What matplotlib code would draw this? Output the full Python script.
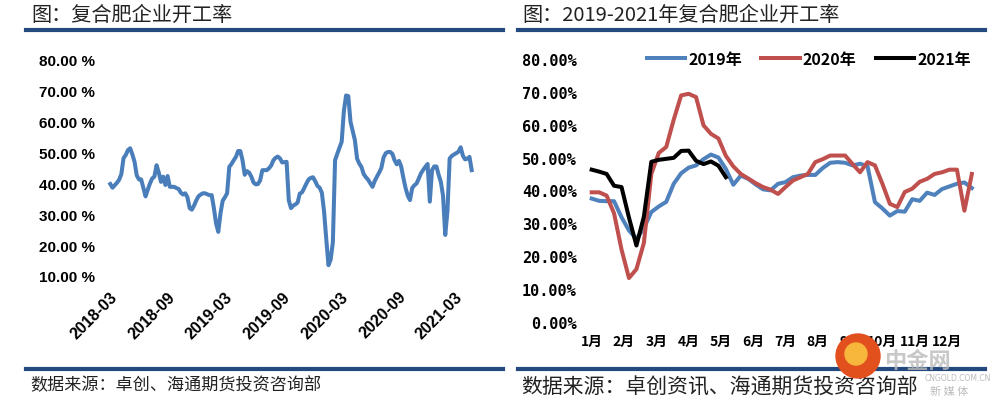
import matplotlib.pyplot as plt
from matplotlib.lines import Line2D
from matplotlib.patches import Ellipse
import pandas as pd

plt.rcParams['font.family'] = ['Noto Sans CJK SC', 'DejaVu Sans']

# 左图：复合肥企业开工率（周度，自 2018-03-02 起）
rate_start = '2018-03-02'
rate_all = [39.8, 38.6, 39.4, 40.2, 41.2, 43.0, 48.2, 49.2, 50.8, 51.4,
            49.4, 47.0, 42.6, 41.3, 41.3, 38.5, 35.8, 38.0, 40.0, 41.6,
            42.2, 45.9, 43.5, 40.5, 42.2, 39.5, 42.4, 38.9, 38.9, 38.9,
            38.5, 38.2, 37.0, 36.4, 36.8, 35.5, 32.0, 31.5, 32.8, 34.5,
            35.8, 36.4, 36.8, 36.8, 36.5, 36.2, 36.2, 32.0, 27.0, 24.3,
            30.3, 34.4, 35.5, 36.8, 45.4, 46.3, 47.5, 48.6, 50.5, 50.5,
            47.5, 42.8, 44.0, 43.5, 42.2, 40.3, 39.7, 39.8, 41.0, 44.3,
            44.3, 44.3, 44.9, 45.8, 47.5, 48.3, 48.7, 48.1, 46.8, 46.9,
            47.0, 34.5, 32.0, 32.8, 33.2, 33.8, 36.7, 37.1, 38.5, 40.0,
            41.3, 41.8, 42.0, 40.7, 39.2, 38.6, 37.0, 31.0, 22.0, 13.5,
            15.3, 21.0, 47.5, 49.6, 51.5, 53.5, 63.5, 68.5, 68.3, 60.0,
            57.0, 54.0, 48.0, 46.4, 45.3, 43.0, 42.0, 41.2, 40.0, 38.9,
            40.8, 42.2, 43.5, 45.0, 48.4, 49.8, 50.2, 50.2, 49.6, 47.5,
            46.2, 47.3, 45.5, 41.8, 38.5, 36.0, 34.6, 38.5, 39.4, 40.0,
            41.6, 43.3, 44.4, 45.4, 46.3, 34.1, 44.3, 45.5, 45.5, 42.8,
            40.5, 36.0, 23.3, 31.0, 48.1, 48.9, 49.4, 49.8, 50.3, 51.7,
            49.0, 47.8, 48.0, 48.6, 44.3]
left_ticks = ['2018-03', '2018-09', '2019-03', '2019-09',
              '2020-03', '2020-09', '2021-03']
left_yticks = [10, 20, 30, 40, 50, 60, 70, 80]

# 右图：2019-2021 年按周对比
months = ['1月', '2月', '3月', '4月', '5月', '6月',
          '7月', '8月', '9月', '10月', '11月', '12月']
y2019 = [37.5, 36.8, 36.7, 36.7, 31.8, 27.8, 25.2, 28.5, 33.4, 35.1,
         36.5, 42.0, 45.2, 46.9, 47.6, 49.5, 50.9, 50.0, 46.5, 41.7,
         44.5, 43.5, 41.8, 40.3, 40.0, 42.0, 42.5, 44.0, 44.5, 44.7,
         44.7, 46.8, 48.4, 48.6, 48.4, 47.6, 48.1, 47.4, 36.4, 34.5,
         32.3, 33.7, 33.5, 37.3, 36.8, 39.3, 38.6, 40.4, 41.2, 42.0,
         42.4, 40.7]
y2020 = [39.4, 39.4, 38.4, 33.0, 22.0, 13.3, 16.0, 24.0, 45.0, 51.4,
         53.2, 61.5, 68.9, 69.4, 68.4, 59.8, 57.2, 55.8, 50.5, 47.3,
         45.0, 43.6, 42.2, 41.0, 40.2, 38.9, 41.0, 43.0, 44.0, 45.0,
         48.6, 49.5, 50.6, 50.6, 50.6, 48.0, 45.5, 48.6, 47.6, 42.0,
         35.9, 34.9, 39.5, 40.5, 42.6, 43.5, 45.0, 45.5, 46.3, 46.3,
         33.8, 45.0]
y2021 = [46.3, 45.7, 45.0, 41.4, 41.0, 31.7, 23.2, 32.0, 48.7, 49.3,
         49.6, 49.9, 52.0, 52.1, 49.0, 48.0, 48.8, 47.5, 44.0]
right_yticks = [0, 10, 20, 30, 40, 50, 60, 70, 80]

W, H = 993, 406


def fx(px):
    return px / W


def fy(py):
    return 1 - py / H


fig = plt.figure(figsize=(W / 100, H / 100), dpi=100)

# 标题、分隔线、来源
rule_c = '#24497E'
for x0, x1 in [(26, 503), (518, 985)]:
    for y in (31, 369.5):
        fig.add_artist(Line2D([fx(x0), fx(x1)], [fy(y), fy(y)],
                              color=rule_c, lw=3, transform=fig.transFigure))
fig.text(fx(31), fy(15), '图：复合肥企业开工率', fontsize=14.5,
         va='center', color='#222222')
fig.text(fx(522), fy(15), '图：2019-2021年复合肥企业开工率', fontsize=14.5,
         va='center', color='#222222')
fig.text(fx(30), fy(385), '数据来源：卓创、海通期货投资咨询部', fontsize=12.3,
         va='center', color='#222222')
fig.text(fx(521), fy(388), '数据来源：卓创资讯、海通期货投资咨询部', fontsize=15,
         va='center', color='#222222')

# ---- 左图
ax1 = fig.add_axes([fx(105), fy(277), fx(480) - fx(105), fy(61) - fy(277)])
dates = pd.date_range(rate_start, periods=len(rate_all), freq='7D')
ax1.plot(dates, rate_all, color='#4A7EBB', lw=2.9, solid_joinstyle='round')
tick_dates = pd.to_datetime([t + '-01' for t in left_ticks])
dpp = (tick_dates[-1] - tick_dates[0]).days / (455 - 110)
ax1.set_xlim(tick_dates[0] - pd.Timedelta(days=5 * dpp),
             tick_dates[-1] + pd.Timedelta(days=25 * dpp))
ax1.set_ylim(10, 80)
ax1.set_yticks(left_yticks)
ax1.set_yticklabels([f'{v:.2f} %' for v in left_yticks],
                    family='Liberation Sans', weight='bold', fontsize=11)
ax1.set_xticks(tick_dates)
ax1.set_xticklabels(left_ticks, rotation=45, ha='right', va='top',
                    rotation_mode='anchor', family='Liberation Sans',
                    weight='bold', fontsize=11.5)
ax1.tick_params(axis='both', length=0)
ax1.tick_params(axis='x', pad=9)
ax1.tick_params(axis='y', pad=7)
for s in ax1.spines.values():
    s.set_visible(False)

# ---- 右图
ax2 = fig.add_axes([fx(585), fy(322.7), fx(980) - fx(585), fy(60) - fy(322.7)])
wk = lambda n: [1 + i * 12 / 52 for i in range(n)]
ax2.plot(wk(len(y2019)), y2019, color='#4F81BD', lw=2.9, label='2019年')
ax2.plot(wk(len(y2020)), y2020, color='#C0504D', lw=2.9, label='2020年')
ax2.plot(wk(len(y2021)), y2021, color='#000000', lw=2.9, label='2021年')
ax2.set_xlim(1 + (585 - 591.7) / 32.3, 1 + (980 - 591.7) / 32.3)
ax2.set_ylim(0, 80)
ax2.set_yticks(right_yticks)
ax2.set_yticklabels([f'{v:.2f}%' for v in right_yticks],
                    family='DejaVu Sans Mono', weight='bold', fontsize=11)
ax2.set_xticks(range(1, 13))
ax2.set_xticklabels(months, weight='bold', fontsize=10)
ax2.tick_params(axis='both', length=0)
ax2.tick_params(axis='x', pad=9)
ax2.tick_params(axis='y', pad=6)
for s in ax2.spines.values():
    s.set_visible(False)
ax2.legend(loc='center', bbox_to_anchor=(fx(809), fy(60)),
           bbox_transform=fig.transFigure, ncol=3, frameon=False,
           handlelength=2.4, handletextpad=0.2, columnspacing=1.2,
           prop={'weight': 'bold', 'size': 11.5})

# 水印
fig.add_artist(Ellipse((fx(858), fy(357)), 44 / W, 44 / H,
                       transform=fig.transFigure, color='#E2501E', zorder=5))
fig.add_artist(Ellipse((fx(856), fy(355)), 22 / W, 22 / H,
                       transform=fig.transFigure, color='#F6B73C', zorder=6))
fig.text(fx(884), fy(362), '中金网', fontsize=16, weight='bold',
         color='#BBBBBB', alpha=0.8, va='center', zorder=6)
fig.text(fx(925), fy(379), 'CNGOLD.COM.CN', fontsize=5.5,
         family='DejaVu Sans', color='#BBBBBB', va='center', zorder=6)
fig.text(fx(930), fy(392), '新 媒 体', fontsize=8, color='#BBBBBB',
         va='center', zorder=6)

fig.savefig('out.png', dpi=100)
